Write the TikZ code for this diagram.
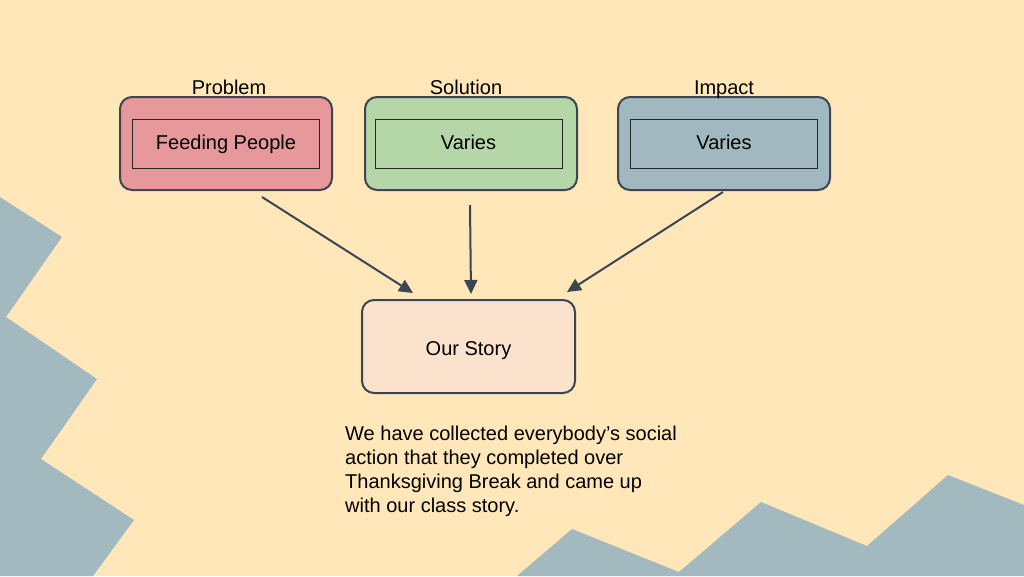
\documentclass[tikz,border=0pt]{standalone}
\usepackage{fontspec}
\setmainfont{Liberation Sans}
\usepackage{tikz}
\usetikzlibrary{arrows.meta,positioning}

\definecolor{bgcol}{HTML}{FFE7B9}
\definecolor{slate}{HTML}{A2B9BF}
\definecolor{probcol}{HTML}{E6989A}
\definecolor{solcol}{HTML}{B5D6A7}
\definecolor{impcol}{HTML}{A2B8C0}
\definecolor{storycol}{HTML}{FAE2CC}
\definecolor{edgecol}{HTML}{3C4552}

\tikzset{
  outerbox/.style={draw=edgecol, line width=2pt, rounded corners=12pt,
    minimum width=212pt, minimum height=93pt, inner sep=0pt,
    text height=17pt, text depth=0pt},
  innerbox/.style={draw=black!85, line width=0.8pt,
    minimum width=187pt, minimum height=49pt, inner sep=0pt,
    text height=15pt, text depth=4pt},
  heading/.style={inner sep=0pt, text height=14pt, text depth=0pt},
  link/.style={draw=edgecol, line width=2pt, -{Triangle[length=14pt,width=13pt]}},
}

\begin{document}
\begin{tikzpicture}[x=1pt,y=-1pt,font=\fontsize{20}{24}\selectfont]
    % Background
    \fill[bgcol] (0,0) rectangle (1024,576);
    \useasboundingbox (0,0) rectangle (1024,576);
    % Jagged shapes
    \fill[slate] (0,197) -- (62,237) -- (6,317) -- (97,379) -- (41,459)
      -- (134,520) -- (93,576) -- (0,576) -- cycle;
    \fill[slate] (517,576) -- (572,529) -- (679,572) -- (761,502)
      -- (867,546) -- (948,475) -- (1024,505) -- (1024,576) -- cycle;
    % Boxes
    \node[outerbox, fill=probcol] (problem) at (226,143.5) {};
    \node[outerbox, fill=solcol] (solution) at (471,143.5) {};
    \node[outerbox, fill=impcol] (impact) at (724,143.5) {};
    \node[outerbox, fill=storycol, minimum width=213pt] (story) at (468.5,346.5) {Our Story};
    \node[innerbox, fill=probcol] (problemin) at (problem) {Feeding People};
    \node[innerbox, fill=solcol] (solutionin) at (468.5,143.5) {Varies};
    \node[innerbox, fill=impcol] (impactin) at (impact) {Varies};
    % Headings
    \node[heading, above=1pt of problem, xshift=3pt] (problemlabel) {Problem};
    \node[heading, above=1pt of solution, xshift=-5pt] (solutionlabel) {Solution};
    \node[heading, above=1pt of impact] (impactlabel) {Impact};
    % Arrow ends
    \coordinate (probout) at (262,197);
    \coordinate (solout) at (470,205);
    \coordinate (impout) at (723,192);
    \coordinate (storyin1) at (413,293);
    \coordinate (storyin2) at (471,294);
    \coordinate (storyin3) at (567,292);
    \draw[link] (probout) -- (storyin1);
    \draw[link] (solout) -- (storyin2);
    \draw[link] (impout) -- (storyin3);
    % Note
    \node[anchor=north west, align=left, inner sep=0pt] (note) at (345,426)
      {We have collected everybody’s social\\action that they completed over\\
       Thanksgiving Break and came up\\with our class story.};
\end{tikzpicture}
\end{document}
